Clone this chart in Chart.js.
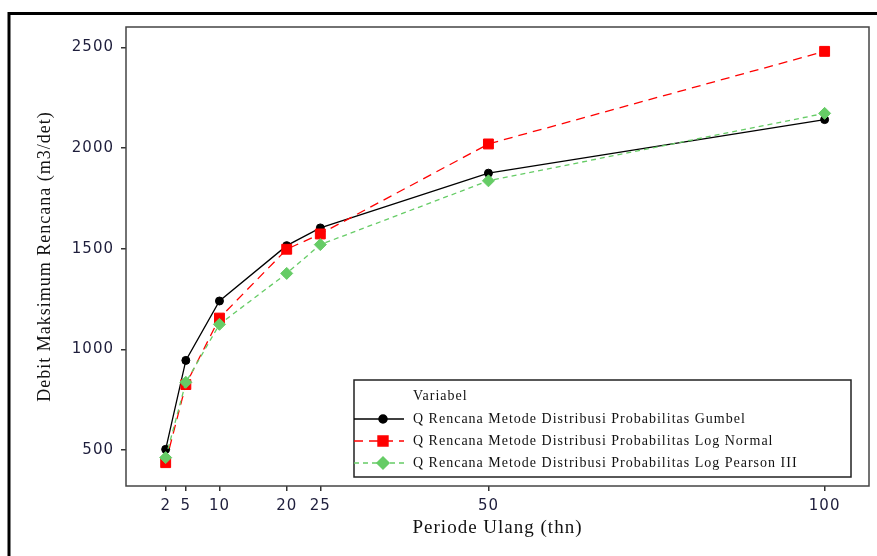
<!DOCTYPE html>
<html>
<head>
<meta charset="utf-8">
<script src="https://cdn.jsdelivr.net/npm/chart.js@4/dist/chart.umd.min.js"></script>
<style>
html, body { margin: 0; padding: 0; background: #fff; }
#wrap { width: 877px; height: 556px; }
</style>
</head>
<body>
<div id="wrap"><canvas id="chart" width="877" height="556"></canvas></div>
<script>
// data
const periods = [2, 5, 10, 20, 25, 50, 100];
const gumbel = [503, 945, 1240, 1515, 1603, 1875, 2141];
const logNormal = [437, 825, 1155, 1497, 1573, 2020, 2480];
const logPearson = [462, 836, 1124, 1377, 1520, 1837, 2172];

const xTicks = [2, 5, 10, 20, 25, 50, 100];
const yTicks = [500, 1000, 1500, 2000, 2500];

const legendTitle = 'Variabel';
const labels = [
    'Q Rencana Metode Distribusi Probabilitas Gumbel',
    'Q Rencana Metode Distribusi Probabilitas Log Normal',
    'Q Rencana Metode Distribusi Probabilitas Log Pearson III'
];

const points = (vals) => periods.map((p, i) => ({x: p, y: vals[i]}));

const tickColor = '#1e1e3c';

// white background, outer frame and box around the plot
const framePlugin = {
    id: 'frame',
    beforeDraw(chart) {
        const ctx = chart.ctx;
        ctx.letterSpacing = '1px';
        ctx.save();
        ctx.fillStyle = '#fff';
        ctx.fillRect(0, 0, chart.width, chart.height);
        ctx.strokeStyle = '#000';
        ctx.lineWidth = 3;
        ctx.beginPath();
        ctx.moveTo(9, chart.height);
        ctx.lineTo(9, 13.5);
        ctx.lineTo(chart.width, 13.5);
        ctx.stroke();
        ctx.restore();
    },
    beforeDatasetsDraw(chart) {
        const a = chart.chartArea;
        const ctx = chart.ctx;
        ctx.save();
        ctx.strokeStyle = '#444';
        ctx.lineWidth = 1.5;
        ctx.strokeRect(a.left, a.top, a.right - a.left, a.bottom - a.top);
        ctx.restore();
    }
};

// boxed legend inside the plot, lower right
const boxLegend = {
    id: 'boxLegend',
    afterDraw(chart) {
        const ctx = chart.ctx;
        const a = chart.chartArea;
        const right = a.right - 18, bottom = a.bottom - 9;
        const left = 354, top = 380;
        ctx.save();
        ctx.letterSpacing = '1px';
        ctx.strokeStyle = '#222';
        ctx.lineWidth = 1.5;
        ctx.strokeRect(left, top, right - left, bottom - top);

        ctx.font = '14px "Liberation Serif"';
        ctx.fillStyle = '#111';
        ctx.textBaseline = 'middle';
        ctx.textAlign = 'left';
        ctx.fillText(legendTitle, 413, 396);

        chart.data.datasets.forEach((ds, i) => {
            const y = 419 + i * 22;
            ctx.save();
            ctx.strokeStyle = ds.borderColor;
            ctx.lineWidth = ds.borderWidth;
            ctx.setLineDash(ds.borderDash || []);
            ctx.beginPath();
            ctx.moveTo(left, y);
            ctx.lineTo(404, y);
            ctx.stroke();
            ctx.restore();
            ctx.save();
            ctx.fillStyle = ds.backgroundColor;
            ctx.strokeStyle = ds.borderColor;
            Chart.helpers.drawPoint(ctx, {
                pointStyle: ds.pointStyle,
                radius: ds.pointRadius,
                borderWidth: 1
            }, 383, y);
            ctx.restore();
            ctx.fillStyle = '#111';
            ctx.fillText(ds.label, 413, y);
        });
        ctx.restore();
    }
};

new Chart(document.getElementById('chart'), {
    type: 'line',
    data: {
        datasets: [
            {
                label: labels[0],
                data: points(gumbel),
                borderColor: '#000',
                backgroundColor: '#000',
                borderWidth: 1.3,
                pointStyle: 'circle',
                pointRadius: 4,
                pointBorderWidth: 1,
                order: 3
            },
            {
                label: labels[1],
                data: points(logNormal),
                borderColor: '#ff0000',
                backgroundColor: '#ff0000',
                borderWidth: 1.3,
                borderDash: [9, 6],
                pointStyle: 'rect',
                pointRadius: 7,
                pointBorderWidth: 1,
                order: 2
            },
            {
                label: labels[2],
                data: points(logPearson),
                borderColor: '#66cc66',
                backgroundColor: '#66cc66',
                borderWidth: 1.3,
                borderDash: [5, 4],
                pointStyle: 'rectRot',
                pointRadius: 6,
                pointBorderWidth: 1,
                order: 1
            }
        ]
    },
    options: {
        responsive: false,
        animation: false,
        devicePixelRatio: 1,
        layout: {padding: {top: 27, right: 4, left: 0, bottom: 0}},
        plugins: {
            legend: {display: false},
            tooltip: {enabled: false}
        },
        elements: {line: {tension: 0}},
        scales: {
            x: {
                type: 'linear',
                min: -3.9,
                max: 106.6,
                afterBuildTicks: (s) => { s.ticks = xTicks.map(v => ({value: v})); },
                afterFit: (s) => { s.height = 70; },
                grid: {display: true, drawOnChartArea: false, tickLength: 5, color: '#333', lineWidth: 1.5},
                border: {display: false},
                ticks: {
                    color: tickColor,
                    font: {family: '"DejaVu Sans"', size: 15},
                    padding: 6,
                    maxRotation: 0,
                    autoSkip: false,
                    callback: (v) => String(v)
                },
                title: {
                    display: true,
                    text: 'Periode Ulang (thn)',
                    color: '#111',
                    font: {family: '"Liberation Serif"', size: 19},
                    padding: {top: 0, bottom: 17}
                }
            },
            y: {
                min: 321,
                max: 2601,
                afterBuildTicks: (s) => { s.ticks = yTicks.map(v => ({value: v})); },
                afterFit: (s) => { s.width = 126; },
                grid: {display: true, drawOnChartArea: false, tickLength: 5, color: '#333', lineWidth: 1.5},
                border: {display: false},
                ticks: {
                    color: tickColor,
                    font: {family: '"DejaVu Sans"', size: 15},
                    padding: 7,
                    callback: (v) => String(v)
                },
                title: {
                    display: true,
                    text: 'Debit Maksimum Rencana (m3/det)',
                    color: '#111',
                    font: {family: '"Liberation Serif"', size: 18},
                    padding: {top: 34, bottom: 0}
                }
            }
        }
    },
    plugins: [framePlugin, boxLegend]
});
</script>
</body>
</html>
